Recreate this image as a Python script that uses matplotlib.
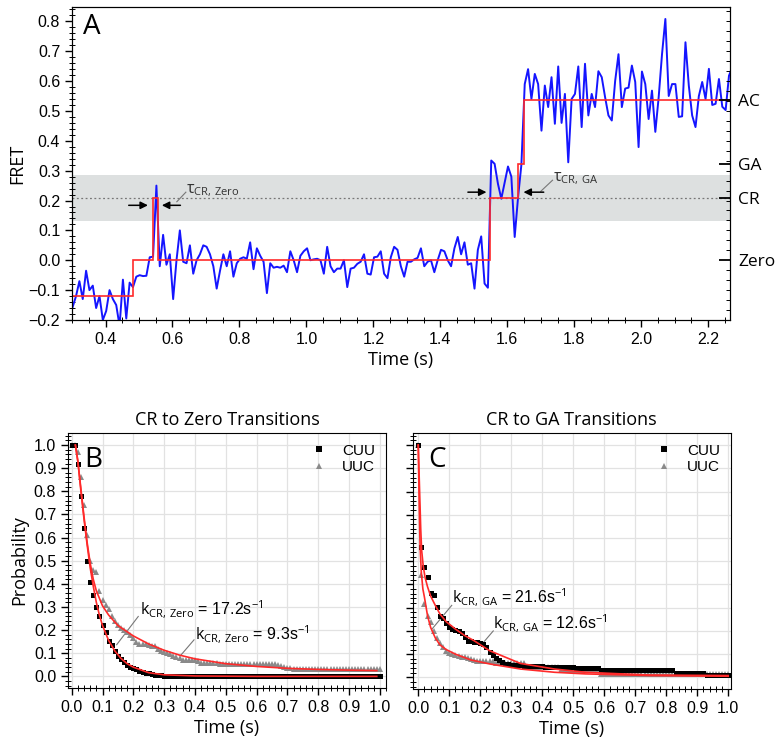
import numpy as np
import matplotlib
matplotlib.use("Agg")
import matplotlib.pyplot as plt
from matplotlib.ticker import MultipleLocator
from matplotlib.lines import Line2D

plt.rcParams['font.family'] = ['Liberation Sans', 'DejaVu Sans']
plt.rcParams['mathtext.fontset'] = 'custom'
plt.rcParams['mathtext.rm'] = 'Open Sans'
plt.rcParams['mathtext.it'] = 'Open Sans'

LABEL_FONT = ['Open Sans', 'DejaVu Sans']

##################
## PANEL A DATA ##
##################

# FRET trace sampled every 10 ms starting at t0
trace_t0 = 0.302
trace_dt = 0.01
trace_fret = [
    -0.156, -0.12, -0.07, -0.13, -0.035, -0.10, -0.085, -0.16, -0.12, -0.20,
    -0.17, -0.10, -0.13, -0.15, -0.22, -0.065, -0.195, -0.075, -0.09, -0.055,
    -0.05, -0.053, -0.052, 0.01, 0.012, 0.25, -0.02, 0.085, -0.015, 0.02,
    -0.13, 0.0, 0.10, -0.005, -0.01, 0.05, -0.045, 0.0, 0.02, 0.05,
    0.045, 0.02, -0.02, -0.095, -0.035, 0.02, -0.02, 0.03, -0.055, -0.01,
    0.005, 0.01, 0.005, 0.06, -0.03, 0.04, 0.015, -0.005, -0.11, -0.01,
    -0.025, -0.022, -0.025, -0.018, -0.04, 0.03, 0.0, -0.04, 0.015, 0.03,
    0.04, 0.0, 0.003, 0.005, 0.0, -0.045, 0.045, -0.02, -0.04, -0.028,
    -0.028, 0.0, -0.09, -0.028, -0.025, -0.012, -0.005, 0.02, -0.045, -0.048,
    0.01, 0.012, 0.03, -0.045, -0.06, 0.01, 0.045, 0.035, -0.02, -0.055,
    -0.005, -0.005, 0.003, 0.008, 0.04, -0.02, -0.005, 0.0, -0.04, 0.0,
    0.035, 0.03, 0.0, -0.02, 0.04, 0.078, 0.02, 0.06, -0.015, -0.01,
    -0.095, 0.035, 0.08, -0.078, -0.092, 0.334, 0.323, 0.256, 0.206, 0.26,
    0.314, 0.28, 0.078, 0.21, 0.32, 0.59, 0.64, 0.54, 0.624, 0.59,
    0.434, 0.585, 0.513, 0.613, 0.457, 0.649, 0.46, 0.557, 0.328, 0.54,
    0.557, 0.649, 0.446, 0.658, 0.485, 0.557, 0.513, 0.633, 0.613, 0.546,
    0.485, 0.468, 0.60, 0.69, 0.513, 0.575, 0.578, 0.652, 0.597, 0.379,
    0.632, 0.59, 0.473, 0.568, 0.43, 0.546, 0.69, 0.808, 0.55, 0.59,
    0.59, 0.48, 0.482, 0.73, 0.585, 0.485, 0.446, 0.55, 0.597, 0.54,
    0.641, 0.52, 0.524, 0.607, 0.514, 0.503, 0.618, 0.647,
]

# idealised (HMM) state path: edges and levels
step_edges = [0.30, 0.483, 0.541, 0.556, 1.548, 1.633, 1.651, 2.30]
step_levels = [-0.12, 0.0, 0.208, 0.0, 0.208, 0.323, 0.538]

state_names = ["Zero", "CR", "GA", "AC"]
state_fret = [0.0, 0.208, 0.323, 0.538]
cr_band = (0.13, 0.285)

#####################
## PANELS B/C DATA ##
#####################

dwell_dt = 0.01  # survival histograms binned at 10 ms, 0 .. 1.0 s

B_cuu = [
    1.0, 1.0, 0.92, 0.78, 0.64, 0.50, 0.41, 0.35, 0.30, 0.26,
    0.22, 0.19, 0.155, 0.135, 0.11, 0.09, 0.075, 0.062, 0.05, 0.042,
    0.035, 0.03, 0.025, 0.02, 0.016, 0.013, 0.01, 0.008, 0.006, 0.004,
    0.0, 0.0, 0.0, 0.0, 0.0, 0.0, 0.0, 0.0, 0.0, 0.0,
    0.0, 0.0, 0.0, 0.0, 0.0, 0.0, 0.0, 0.0, 0.0, 0.0,
    0.0, 0.0, 0.0, 0.0, 0.0, 0.0, 0.0, 0.0, 0.0, 0.0,
    0.0, 0.0, 0.0, 0.0, 0.0, 0.0, 0.0, 0.0, 0.0, 0.0,
    0.0, 0.0, 0.0, 0.0, 0.0, 0.0, 0.0, 0.0, 0.0, 0.0,
    0.0, 0.0, 0.0, 0.0, 0.0, 0.0, 0.0, 0.0, 0.0, 0.0,
    0.0, 0.0, 0.0, 0.0, 0.0, 0.0, 0.0, 0.0, 0.0, 0.0,
    0.0,
]
B_uuc = [
    1.0, 1.0, 0.97, 0.86, 0.74, 0.61, 0.50, 0.46, 0.45, 0.37,
    0.33, 0.31, 0.29, 0.26, 0.24, 0.22, 0.21, 0.20, 0.19, 0.18,
    0.165, 0.15, 0.14, 0.14, 0.14, 0.135, 0.13, 0.13, 0.12, 0.11,
    0.105, 0.10, 0.095, 0.09, 0.085, 0.08, 0.07, 0.07, 0.07, 0.07,
    0.07, 0.065, 0.06, 0.06, 0.06, 0.06, 0.06, 0.06, 0.055, 0.055,
    0.055, 0.055, 0.055, 0.055, 0.055, 0.055, 0.055, 0.055, 0.055, 0.055,
    0.055, 0.055, 0.055, 0.055, 0.055, 0.055, 0.055, 0.05, 0.045, 0.04,
    0.035, 0.035, 0.03, 0.03, 0.03, 0.03, 0.03, 0.03, 0.03, 0.03,
    0.03, 0.03, 0.03, 0.03, 0.03, 0.03, 0.03, 0.03, 0.03, 0.03,
    0.03, 0.03, 0.03, 0.03, 0.03, 0.03, 0.03, 0.03, 0.03, 0.03,
    0.03,
]
C_cuu = [
    1.0, 0.56, 0.475, 0.43, 0.363, 0.353, 0.305, 0.266, 0.255, 0.232,
    0.218, 0.21, 0.205, 0.20, 0.19, 0.175, 0.158, 0.155, 0.152, 0.152,
    0.148, 0.144, 0.13, 0.11, 0.095, 0.085, 0.075, 0.065, 0.058, 0.056,
    0.055, 0.055, 0.053, 0.052, 0.05, 0.05, 0.05, 0.05, 0.05, 0.05,
    0.05, 0.043, 0.043, 0.043, 0.043, 0.043, 0.043, 0.043, 0.043, 0.043,
    0.043, 0.04, 0.04, 0.04, 0.04, 0.04, 0.04, 0.04, 0.04, 0.03,
    0.03, 0.03, 0.03, 0.03, 0.03, 0.03, 0.03, 0.03, 0.03, 0.03,
    0.03, 0.03, 0.03, 0.03, 0.03, 0.03, 0.03, 0.03, 0.03, 0.03,
    0.03, 0.03, 0.03, 0.018, 0.018, 0.018, 0.018, 0.018, 0.018, 0.018,
    0.018, 0.018, 0.018, 0.012, 0.012, 0.012, 0.012, 0.012, 0.012, 0.012,
    0.012,
]
C_uuc = [
    1.0, 0.44, 0.317, 0.266, 0.237, 0.20, 0.17, 0.146, 0.13, 0.115,
    0.105, 0.10, 0.095, 0.09, 0.086, 0.086, 0.085, 0.08, 0.075, 0.07,
    0.07, 0.07, 0.07, 0.07, 0.07, 0.06, 0.06, 0.06, 0.06, 0.06,
    0.06, 0.06, 0.06, 0.06, 0.06, 0.045, 0.045, 0.045, 0.045, 0.045,
    0.045, 0.045, 0.045, 0.045, 0.045, 0.045, 0.03, 0.03, 0.03, 0.03,
    0.03, 0.03, 0.03, 0.03, 0.03, 0.03, 0.03, 0.03, 0.03, 0.015,
    0.015, 0.015, 0.015, 0.015, 0.015, 0.015, 0.015, 0.015, 0.015, 0.015,
    0.015, 0.015, 0.015, 0.015, 0.015, 0.015, 0.015, 0.015, 0.015, 0.015,
    0.015, 0.015, 0.015, 0.015, 0.015, 0.015, 0.015, 0.015, 0.015, 0.015,
    0.015, 0.015, 0.015, 0.015, 0.015, 0.015, 0.015, 0.015, 0.015, 0.015,
    0.015,
]

# exponential fits
B_fit_t = [0.012, 0.02, 0.03, 0.04, 0.05, 0.06, 0.07, 0.08, 0.09, 0.10, 0.12,
           0.14, 0.16, 0.18, 0.20, 0.25, 0.30, 0.40, 0.60, 0.99]
B_fit_cuu = [1.0, 0.93, 0.80, 0.68, 0.57, 0.47, 0.39, 0.32, 0.265, 0.22, 0.155,
             0.11, 0.078, 0.055, 0.04, 0.016, 0.007, 0.002, 0.0, 0.0]
B_fit_t2 = [0.012, 0.02, 0.03, 0.04, 0.05, 0.06, 0.07, 0.08, 0.10, 0.12, 0.15,
            0.20, 0.25, 0.30, 0.35, 0.40, 0.50, 0.60, 0.70, 0.80, 0.90, 0.99]
B_fit_uuc = [1.0, 0.93, 0.81, 0.69, 0.58, 0.49, 0.42, 0.37, 0.305, 0.265, 0.22,
             0.175, 0.14, 0.113, 0.092, 0.076, 0.055, 0.043, 0.035, 0.03, 0.027, 0.025]

C_fit_t = [0.0, 0.004, 0.008, 0.011, 0.016, 0.022, 0.03, 0.04, 0.055, 0.07, 0.09,
           0.12, 0.15, 0.18, 0.23, 0.29, 0.33, 0.44, 0.54, 0.66, 0.75, 1.0]
C_fit_cuu = [1.0, 0.82, 0.64, 0.547, 0.48, 0.43, 0.39, 0.35, 0.31, 0.273, 0.24,
             0.208, 0.18, 0.158, 0.115, 0.082, 0.06, 0.036, 0.022, 0.015, 0.01, 0.008]
C_fit_t2 = [0.0, 0.003, 0.006, 0.01, 0.015, 0.02, 0.03, 0.04, 0.055, 0.07, 0.09,
            0.12, 0.17, 0.23, 0.33, 0.44, 0.54, 0.75, 1.0]
C_fit_uuc = [1.0, 0.75, 0.56, 0.45, 0.38, 0.345, 0.265, 0.215, 0.17, 0.14, 0.12,
             0.10, 0.075, 0.058, 0.036, 0.022, 0.015, 0.008, 0.005]

##################
# GENERATE PLOTS #
##################

blue = "#1515ff"
red = "#ff2a2a"
grey_pts = "#8a8a8a"

fig = plt.figure(figsize=(7.77, 7.40), dpi=100)

# ---------------- panel A ----------------
axA = fig.add_axes([0.0927, 0.5676, 0.9395 - 0.0927, 0.9905 - 0.5676])
t_trace = trace_t0 + trace_dt * np.arange(len(trace_fret))

axA.axhspan(cr_band[0], cr_band[1], color="#dde0e0", zorder=0, lw=0)
axA.axhline(state_fret[1], color="#777777", ls=(0, (1.5, 2)), lw=0.9, zorder=1)
axA.plot(t_trace, trace_fret, color=blue, lw=1.4, zorder=3)
axA.stairs(step_levels, step_edges, baseline=None, color=red, lw=1.2, zorder=4)

axA.set_xlim(0.30, 2.265)
axA.set_ylim(-0.2, 0.848)
axA.xaxis.set_major_locator(MultipleLocator(0.2))
axA.xaxis.set_minor_locator(MultipleLocator(0.05))
axA.yaxis.set_major_locator(MultipleLocator(0.1))
axA.yaxis.set_minor_locator(MultipleLocator(0.02))
axA.tick_params(which="major", direction="out", length=5, width=1, labelsize=11.5)
axA.tick_params(which="minor", direction="inout", length=4, width=0.7)
axA.tick_params(top=False, right=False, which="both")
axA.set_xlabel("Time (s)", fontsize=13, family=LABEL_FONT, labelpad=3)
axA.set_ylabel("FRET", fontsize=13, family=LABEL_FONT, labelpad=2)
axA.text(0.333, 0.78, "A", fontsize=20, family=LABEL_FONT, va="center", ha="left")

# state labels on the right
axR = axA.twinx()
axR.set_ylim(axA.get_ylim())
axR.set_yticks(state_fret)
axR.set_yticklabels(state_names, family=LABEL_FONT, fontsize=12.5)
axR.yaxis.set_minor_locator(MultipleLocator(1 / 30))
axR.tick_params(which="major", direction="in", length=8, width=1.3, pad=6)
axR.tick_params(which="minor", direction="in", length=3, width=0.7)

# dwell-time arrows
arr = dict(arrowstyle="-|>", color="black", lw=1.1, mutation_scale=11)
axA.annotate("", xy=(0.535, 0.184), xytext=(0.461, 0.184), arrowprops=arr)
axA.annotate("", xy=(0.560, 0.184), xytext=(0.632, 0.184), arrowprops=arr)
axA.plot([0.613, 0.640], [0.196, 0.228], color="#777777", lw=0.8)
axA.text(0.640, 0.232, r"$\tau_{\rm CR,\,Zero}$", fontsize=11.5, color="#333333",
         ha="left", va="center")

axA.annotate("", xy=(1.546, 0.228), xytext=(1.474, 0.228), arrowprops=arr)
axA.annotate("", xy=(1.640, 0.228), xytext=(1.717, 0.228), arrowprops=arr)
axA.plot([1.700, 1.735], [0.231, 0.268], color="#777777", lw=0.8)
axA.text(1.735, 0.272, r"$\tau_{\rm CR,\,GA}$", fontsize=11.5, color="#333333",
         ha="left", va="center")

# ---------------- panels B and C ----------------
axB = fig.add_axes([0.0875, 0.0703, 0.4968 - 0.0875, 0.4149 - 0.0703])
axC = fig.add_axes([0.5311, 0.0689, 0.9404 - 0.5311, 0.4149 - 0.0689])

t_dwell = dwell_dt * np.arange(len(B_cuu))

panels = [
    (axB, B_cuu, B_uuc, (B_fit_t, B_fit_cuu), (B_fit_t2, B_fit_uuc),
     "CR to Zero Transitions", "B", (-0.012, 1.02)),
    (axC, C_cuu, C_uuc, (C_fit_t, C_fit_cuu), (C_fit_t2, C_fit_uuc),
     "CR to GA Transitions", "C", (-0.018, 1.008)),
]

for ax, cuu, uuc, fit1, fit2, title, letter, xl in panels:
    ax.grid(True, which="major", color="#e2e2e2", lw=0.9)
    ax.set_axisbelow(True)
    ax.plot(t_dwell, uuc, ls="none", marker="^", ms=4, color=grey_pts,
            markeredgewidth=0, zorder=3)
    ax.plot(t_dwell, cuu, ls="none", marker="s", ms=3.6, color="black",
            markeredgewidth=0, zorder=4)
    ax.plot(fit2[0], fit2[1], color=red, lw=1.2, zorder=5)
    ax.plot(fit1[0], fit1[1], color=red, lw=1.2, zorder=5)
    ax.set_xlim(*xl)
    ax.set_ylim(-0.05, 1.052)
    ax.xaxis.set_major_locator(MultipleLocator(0.1))
    ax.xaxis.set_minor_locator(MultipleLocator(0.02))
    ax.yaxis.set_major_locator(MultipleLocator(0.1))
    ax.yaxis.set_minor_locator(MultipleLocator(0.02))
    ax.tick_params(which="major", direction="out", length=5, width=1, labelsize=11.5)
    ax.tick_params(which="minor", direction="inout", length=4, width=0.7)
    ax.set_xlabel("Time (s)", fontsize=13, family=LABEL_FONT, labelpad=3)
    ax.set_title(title, fontsize=13, family=LABEL_FONT, pad=6)
    ax.text(0.04 if letter == "B" else 0.032, 0.935, letter, fontsize=20,
            family=LABEL_FONT, va="center", ha="left")
    handles = [
        Line2D([], [], ls="none", marker="s", ms=4.5, color="black", markeredgewidth=0),
        Line2D([], [], ls="none", marker="^", ms=5, color=grey_pts, markeredgewidth=0),
    ]
    ax.legend(handles, ["CUU", "UUC"], loc="upper right", frameon=False,
              fontsize=11, handlelength=1.2, handletextpad=0.9, labelspacing=0.15,
              borderaxespad=0.3)

axB.set_ylabel("Probability", fontsize=13, family=LABEL_FONT, labelpad=4)
axC.tick_params(labelleft=False)

lead = dict(color="#777777", lw=0.8)
axB.plot([0.146, 0.216], [0.137, 0.259], **lead)
axB.text(0.222, 0.292, r"$k_{\rm CR,\,Zero}$ = 17.2s$^{-1}$", fontsize=11.5,
         ha="left", va="center")
axB.plot([0.355, 0.397], [0.093, 0.158], **lead)
axB.text(0.400, 0.185, r"$k_{\rm CR,\,Zero}$ = 9.3s$^{-1}$", fontsize=11.5,
         ha="left", va="center")

axC.plot([0.045, 0.108], [0.209, 0.31], **lead)
axC.text(0.108, 0.345, r"$k_{\rm CR,\,GA}$ = 21.6s$^{-1}$", fontsize=11.5,
         ha="left", va="center")
axC.plot([0.21, 0.242], [0.15, 0.2], **lead)
axC.text(0.242, 0.232, r"$k_{\rm CR,\,GA}$ = 12.6s$^{-1}$", fontsize=11.5,
         ha="left", va="center")

plt.savefig("out.png", dpi=100)
